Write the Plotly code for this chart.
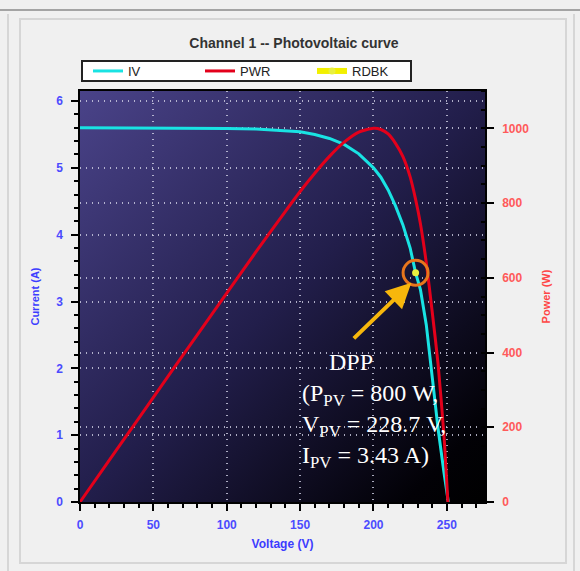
import base64
import plotly.graph_objects as go

# ---------------- data ----------------
voltage_iv = [0, 25, 50, 75, 100, 120, 140, 150, 160, 170, 180, 190, 200, 205, 210,
              215, 220, 225, 228.7, 232, 236, 240, 244, 248, 251]
current_iv = [5.60, 5.60, 5.60, 5.60, 5.59, 5.58, 5.56, 5.54, 5.50, 5.44, 5.35, 5.21,
              5.00, 4.86, 4.67, 4.43, 4.15, 3.80, 3.43, 3.18, 2.65, 1.85, 1.10, 0.45, 0.0]

voltage_pwr = [0, 25, 50, 75, 100, 120, 140, 150, 160, 170, 180, 190, 200, 205, 210,
               215, 220, 225, 228.7, 232, 236, 240, 244, 248, 250.7]
power_w = [0, 140, 280, 420, 559, 670, 778, 831, 880, 925, 963, 990, 1000, 997, 985,
           960, 925, 870, 810, 745, 640, 510, 370, 180, 0]

rdbk_v = [228.7]
rdbk_i = [3.43]

x_ticks = [0, 50, 100, 150, 200, 250]
y_ticks = [0, 1, 2, 3, 4, 5, 6]
y2_ticks = [0, 200, 400, 600, 800, 1000]

dpp_label = "DPP"
dpp_block = "(P<sub>PV</sub> = 800 W,<br>V<sub>PV</sub> = 228.7 V,<br>I<sub>PV</sub> = 3.43 A)"

# ---------------- layout helpers ----------------
L, R, T, B = 80, 485, 91, 502
W, H = 580, 571


def px(x):
    return (x - L) / (R - L)


def py(y):
    return (B - y) / (B - T)


grid_col = "rgba(210,210,230,0.8)"
grid_dash = "1px,5px"

fig = go.Figure()
fig.add_trace(go.Scatter(x=voltage_iv, y=current_iv, name="IV", mode="lines",
                         line=dict(color="#19e3e3", width=3), yaxis="y"))
fig.add_trace(go.Scatter(x=voltage_pwr, y=power_w, name="PWR", mode="lines",
                         line=dict(color="#e3001b", width=3, shape="spline", smoothing=0.6),
                         yaxis="y2"))
fig.add_trace(go.Scatter(x=rdbk_v, y=rdbk_i, name="RDBK", mode="lines+markers",
                         line=dict(color="#f2f000", width=6),
                         marker=dict(color="#e8f040", size=7), yaxis="y"))

svg = ('<svg xmlns="http://www.w3.org/2000/svg" width="405" height="411" '
       'viewBox="0 0 405 411" preserveAspectRatio="none"><defs>'
       '<linearGradient id="g" x1="0" y1="0" x2="1" y2="1">'
       '<stop offset="0" stop-color="#4a4389"/>'
       '<stop offset="0.5" stop-color="#221e4b"/>'
       '<stop offset="0.9" stop-color="#020106"/>'
       '<stop offset="1" stop-color="#000000"/>'
       '</linearGradient></defs><rect width="405" height="411" fill="url(#g)"/></svg>')
src = "data:image/svg+xml;base64," + base64.b64encode(svg.encode()).decode()

tickfont_blue = dict(family="Liberation Sans", size=12, color="#4b4bff", weight="bold")
tickfont_red = dict(family="Liberation Sans", size=12, color="#ff5a5a", weight="bold")

fig.update_layout(
    width=W, height=H,
    margin=dict(l=L, r=W - R, t=T, b=H - B, pad=0),
    paper_bgcolor="#f0f0f0",
    plot_bgcolor="rgba(0,0,0,0)",
    font=dict(family="Liberation Sans", size=12, color="#222"),
    title=dict(text="Channel 1 -- Photovoltaic curve", x=294 / W, xref="container",
               y=1 - 43 / H, yref="container", xanchor="center", yanchor="middle",
               font=dict(family="Liberation Sans", size=14, color="#333333", weight="bold")),
    showlegend=True,
    legend=dict(orientation="h", x=px(88), y=py(71), xanchor="left", yanchor="middle",
                bgcolor="rgba(0,0,0,0)", borderwidth=0,
                entrywidth=67, entrywidthmode="pixels", tracegroupgap=0,
                font=dict(family="Liberation Sans", size=13, color="#222"),
                traceorder="normal"),
    images=[dict(source=src, xref="paper", yref="paper", x=0, y=1, sizex=1, sizey=1,
                 xanchor="left", yanchor="top", sizing="stretch", layer="below")],
    xaxis=dict(range=[0, 276], tickvals=x_ticks, ticks="outside", ticklen=7,
               tickwidth=1.5, tickcolor="black",
               minor=dict(dtick=10, tick0=0, ticks="outside", ticklen=4, tickcolor="black",
                          showgrid=False),
               showline=True, linecolor="black", linewidth=1.5, mirror=True,
               showgrid=True, gridcolor=grid_col, griddash=grid_dash, gridwidth=2,
               zeroline=False, tickfont=tickfont_blue, ticklabelstandoff=4,
               title=dict(text="Voltage (V)", standoff=8,
                          font=dict(family="Liberation Sans", size=12, color="#3c3cff",
                                    weight="bold"))),
    yaxis=dict(range=[0, 6.15], tickvals=y_ticks, ticks="outside", ticklen=7,
               tickwidth=1.5, tickcolor="black",
               minor=dict(dtick=0.2, tick0=0, ticks="outside", ticklen=4, tickcolor="black",
                          showgrid=False),
               showline=True, linecolor="black", linewidth=1.5, mirror=True,
               showgrid=True, gridcolor=grid_col, griddash=grid_dash, gridwidth=2,
               zeroline=False, tickfont=tickfont_blue, ticklabelstandoff=6,
               title=dict(text="Current (A)", standoff=14,
                          font=dict(family="Liberation Sans", size=11, color="#3c3cff",
                                    weight="bold"))),
    yaxis2=dict(range=[0, 1100], tickvals=y2_ticks, overlaying="y", side="right",
                ticks="outside", ticklen=7, tickwidth=1.5, tickcolor="black",
                minor=dict(dtick=50, tick0=0, ticks="inside", ticklen=4, tickcolor="black",
                           showgrid=False),
                showline=True, linecolor="black", linewidth=1.5,
                showgrid=True, gridcolor=grid_col, griddash=grid_dash, gridwidth=2,
                zeroline=False, tickfont=tickfont_red, ticklabelstandoff=6,
                title=dict(text="Power (W)", standoff=14,
                           font=dict(family="Liberation Sans", size=11, color="#ff4545",
                                     weight="bold"))),
)

# window / panel frame and legend box
frame = [
    dict(type="line", x0=px(0), x1=px(580), y0=py(10), y1=py(10),
         line=dict(color="#a4a4a4", width=2)),
    dict(type="line", x0=px(8), x1=px(8), y0=py(14), y1=py(571),
         line=dict(color="#d6d6d6", width=2)),
    dict(type="line", x0=px(574), x1=px(574), y0=py(14), y1=py(571),
         line=dict(color="#d6d6d6", width=2)),
    dict(type="rect", x0=px(20), x1=px(566), y0=py(19), y1=py(563),
         line=dict(color="#d6d6d6", width=2), fillcolor="rgba(0,0,0,0)", layer="below"),
    dict(type="rect", x0=px(82), x1=px(411), y0=py(61), y1=py(81),
         line=dict(color="#222222", width=2), fillcolor="white", layer="below"),
]
for s in frame:
    fig.add_shape(xref="paper", yref="paper", **s)

# DPP marker circle
fig.add_shape(type="circle", xref="x", yref="y", xsizemode="pixel", ysizemode="pixel",
              xanchor=rdbk_v[0], yanchor=rdbk_i[0], x0=-12.5, x1=12.5, y0=-12.5, y1=12.5,
              line=dict(color="#e8761c", width=3))

# arrow
fig.add_annotation(x=225.8, y=3.28, xref="x", yref="y", ax=-59, ay=57,
                   text="", showarrow=True, arrowcolor="#f7b70c", arrowwidth=4,
                   arrowhead=2, arrowsize=1.25, standoff=0)

# DPP text
fig.add_annotation(x=px(351), y=py(362), xref="paper", yref="paper", text=dpp_label,
                   showarrow=False, xanchor="center", yanchor="middle",
                   font=dict(family="Liberation Serif", size=24, color="white"))
fig.add_annotation(x=px(300), y=py(426), xref="paper", yref="paper", text=dpp_block,
                   showarrow=False, xanchor="left", yanchor="middle", align="left",
                   font=dict(family="Liberation Serif", size=24, color="white"))

fig.write_html("out.html")
